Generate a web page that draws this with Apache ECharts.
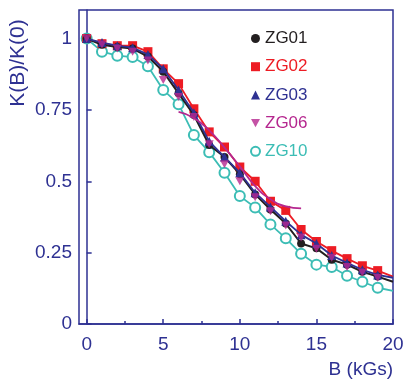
<!DOCTYPE html>
<html>
<head>
<meta charset="utf-8">
<script src="https://cdn.jsdelivr.net/npm/echarts@6/dist/echarts.min.js"></script>
<style>html,body{margin:0;padding:0;background:#fff}#c{width:409px;height:382px}</style>
</head>
<body>
<div id="c"></div>
<script>
var B = [0,1,2,3,4,5,6,7,8,9,10,11,12,13,14,15,16,17,18,19,20];
var ZG01 = [1.0,0.978,0.970,0.965,0.937,0.884,0.808,0.732,0.627,0.585,0.525,0.454,0.401,0.352,0.282,0.265,0.225,0.208,0.183,0.166,0.148];
var ZG02 = [1.0,0.982,0.975,0.975,0.954,0.894,0.842,0.754,0.673,0.620,0.550,0.500,0.430,0.398,0.331,0.289,0.257,0.229,0.204,0.187,0.166];
var ZG03 = [1.0,0.986,0.975,0.968,0.944,0.894,0.820,0.740,0.640,0.585,0.530,0.460,0.410,0.360,0.313,0.282,0.240,0.214,0.190,0.172,0.162];
var ZG06 = [1.0,0.979,0.965,0.954,0.923,0.855,0.795,0.725,0.630,0.560,0.500,0.444,0.395,0.345,0.303,0.264,0.232,0.200,0.180,0.162];
var ZG10 = [1.0,0.954,0.940,0.935,0.903,0.820,0.770,0.662,0.602,0.530,0.448,0.408,0.349,0.300,0.246,0.208,0.200,0.169,0.148,0.127,0.116];
var fitB = [6,7,8,9,10,11,12,13,14];
var fitK = [0.743,0.722,0.678,0.618,0.552,0.483,0.437,0.412,0.405];
var xLabels = [0,5,10,15,20];
var xMinor = [2.5,7.5,12.5,17.5];

var AX = '#2e3192';
var C = {ZG01:'#231f20', ZG02:'#ed1c24', ZG03:'#2e3192', ZG06:'#b5278f', ZG10:'#3cbdb5'};
var FONT = 'Liberation Sans';
var downTri = 'path://M0,0 L10,0 L5,9 Z';

function pairs(xs, ys, lastNoSymbol){
  return ys.map(function(v,i){
    if (lastNoSymbol && i === ys.length-1 && xs[i] === 20) return {value:[xs[i],v], symbol:'none'};
    return [xs[i], v];
  });
}

var chart = echarts.init(document.getElementById('c'), null, {renderer:'canvas'});
chart.setOption({
  animation:false,
  grid:{left:79,right:16,top:10,bottom:58,show:true,borderColor:AX,borderWidth:1.5,backgroundColor:'transparent'},
  legend:{
    orient:'vertical', left:245, top:25, itemWidth:9, itemHeight:9, itemGap:11.2,
    textStyle:{fontFamily:FONT,fontSize:17},
    data:[
      {name:'ZG01', icon:'circle', itemStyle:{color:C.ZG01}, textStyle:{color:C.ZG01}},
      {name:'ZG02', icon:'rect', itemStyle:{color:C.ZG02}, textStyle:{color:C.ZG02}},
      {name:'ZG03', icon:'triangle', itemStyle:{color:C.ZG03}, textStyle:{color:C.ZG03}},
      {name:'ZG06', icon:downTri, itemStyle:{color:C.ZG06}, textStyle:{color:C.ZG06}},
      {name:'ZG10', icon:'emptyCircle', itemStyle:{color:C.ZG10,borderColor:C.ZG10,borderWidth:1.8}, textStyle:{color:C.ZG10}}
    ]
  },
  xAxis:[{
    type:'value', min:-0.5, max:20, gridIndex:0,
    name:'B (kGs)', nameLocation:'end', nameGap:0,
    nameTextStyle:{fontFamily:FONT,fontSize:19,color:AX,align:'right',verticalAlign:'top',padding:[36,0,0,0]},
    axisLine:{lineStyle:{color:AX,width:1.5}},
    axisTick:{inside:true,length:5,customValues:xLabels,lineStyle:{color:AX,width:1.5}},
    axisLabel:{customValues:xLabels,fontFamily:FONT,fontSize:19,color:AX,margin:11},
    splitLine:{show:false}
  },{
    type:'value', min:-0.5, max:20, gridIndex:0, position:'bottom',
    axisLine:{show:false},
    axisTick:{inside:true,length:3,customValues:xMinor,lineStyle:{color:AX,width:1.5}},
    axisLabel:{show:false},
    splitLine:{show:false}
  }],
  yAxis:{
    type:'value', min:0, max:1.1, interval:0.25,
    axisLine:{show:true,lineStyle:{color:AX,width:1.5}},
    axisTick:{show:true,inside:true,length:5,lineStyle:{color:AX,width:1.5}},
    axisLabel:{fontFamily:FONT,fontSize:19,color:AX,margin:7,showMaxLabel:false},
    splitLine:{show:false}
  },
  graphic:[{
    type:'text', x:18, y:63, rotation:Math.PI/2,
    style:{text:'K(B)/K(0)', fill:AX, font:'21px "Liberation Sans"', textAlign:'center', textVerticalAlign:'middle'}
  }],
  series:[
    {name:'ZG10', type:'line', data:pairs(B,ZG10,true), symbol:'emptyCircle', symbolSize:10,
     itemStyle:{color:C.ZG10,borderWidth:1.8}, lineStyle:{color:C.ZG10,width:1.8}, z:2},
    {name:'ZG02', type:'line', data:pairs(B,ZG02,true), symbol:'rect', symbolSize:9,
     itemStyle:{color:C.ZG02}, lineStyle:{color:C.ZG02,width:1.8}, z:3},
    {name:'ZG01', type:'line', data:pairs(B,ZG01,true), symbol:'circle', symbolSize:8,
     itemStyle:{color:C.ZG01}, lineStyle:{color:C.ZG01,width:2}, z:4},
    {name:'ZG03', type:'line', data:pairs(B,ZG03,true), symbol:'triangle', symbolSize:9,
     itemStyle:{color:C.ZG03}, lineStyle:{color:C.ZG03,width:1.8}, z:5},
    {name:'ZG06', type:'scatter', data:pairs(B,ZG06,false), symbol:downTri, symbolSize:[9,8],
     itemStyle:{color:C.ZG06}, z:6},
    {name:'fit', type:'line', data:pairs(fitB,fitK,false), smooth:true, showSymbol:false, symbol:'none',
     lineStyle:{color:C.ZG06,width:1.8}, z:7, legendHoverLink:false}
  ]
});
</script>
</body>
</html>
